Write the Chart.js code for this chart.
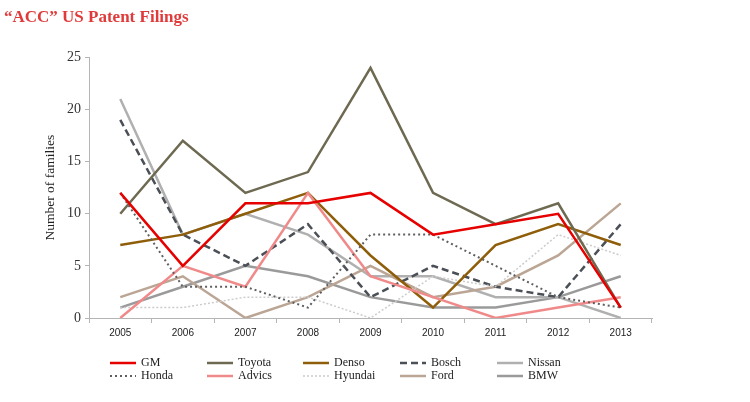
<!DOCTYPE html>
<html>
<head>
<meta charset="utf-8">
<script src="https://cdn.jsdelivr.net/npm/chart.js@4/dist/chart.umd.min.js"></script>
<style>
    html, body { margin: 0; padding: 0; background: #fff; }
    #wrap { width: 750px; height: 402px; position: relative; }
</style>
</head>
<body>
<div id="wrap"><canvas id="chart"></canvas></div>
<script>
// "ACC" US patent filings per year (number of families)
const years = ['2005', '2006', '2007', '2008', '2009', '2010', '2011', '2012', '2013'];
const yTicks = [0, 5, 10, 15, 20, 25];

const gm      = [12, 5, 11, 11, 12, 8, 9, 10, 1];
const toyota  = [10, 17, 12, 14, 24, 12, 9, 11, 1];
const denso   = [7, 8, 10, 12, 6, 1, 7, 9, 7];
const bosch   = [19, 8, 5, 9, 2, 5, 3, 2, 9];
const nissan  = [21, 8, 10, 8, 4, 4, 2, 2, 0];
const honda   = [12, 3, 3, 1, 8, 8, 5, 2, 1];
const advics  = [0, 5, 3, 12, 4, 2, 0, 1, 2];
const hyundai = [1, 1, 2, 2, 0, 4, 3, 8, 6];
const ford    = [2, 4, 0, 2, 5, 2, 3, 6, 11];
const bmw     = [1, 3, 5, 4, 2, 1, 1, 2, 4];

const serif = "'Liberation Serif', 'DejaVu Serif', serif";
const sans = "'Liberation Sans', 'DejaVu Sans', sans-serif";

function series(label, data, color, width, dash) {
    return {
        label: label,
        data: data,
        borderColor: color,
        backgroundColor: color,
        borderWidth: width,
        borderDash: dash || [],
        pointRadius: 0,
        tension: 0,
        fill: false
    };
}

// legend grid: column-major, 2 rows x 5 columns
const legendPlugin = {
    id: 'gridLegend',
    afterDraw(chart) {
        const ctx = chart.ctx;
        const cols = [110, 207, 303, 400, 497];
        const rows = [363, 376];
        ctx.save();
        ctx.font = '12px ' + serif;
        ctx.textBaseline = 'middle';
        chart.data.datasets.forEach((ds, i) => {
            const x = cols[Math.floor(i / 2)];
            const y = rows[i % 2];
            ctx.strokeStyle = ds.borderColor;
            ctx.lineWidth = ds.borderWidth;
            ctx.setLineDash(ds.borderDash);
            ctx.beginPath();
            ctx.moveTo(x, y);
            ctx.lineTo(x + 26, y);
            ctx.stroke();
            ctx.setLineDash([]);
            ctx.fillStyle = '#222';
            ctx.fillText(ds.label, x + 31, y);
        });
        ctx.restore();
    }
};

const ctx = document.getElementById('chart').getContext('2d');
new Chart(ctx, {
    type: 'line',
    data: {
        labels: years,
        datasets: [
            series('GM', gm, '#e60000', 2.5),
            series('Honda', honda, '#5f5f5f', 2, [2, 3]),
            series('Toyota', toyota, '#6e6a52', 2.5),
            series('Advics', advics, '#f08a8a', 2.5),
            series('Denso', denso, '#8f5e0a', 2.5),
            series('Hyundai', hyundai, '#cccccc', 1.5, [2, 2]),
            series('Bosch', bosch, '#4b4f56', 2.5, [7, 4]),
            series('Ford', ford, '#bba594', 2.5),
            series('Nissan', nissan, '#b0b0b0', 2.5),
            series('BMW', bmw, '#9a9a9a', 2.5)
        ]
    },
    options: {
        responsive: true,
        maintainAspectRatio: false,
        animation: false,
        layout: { padding: { left: 4, right: 98, top: 3, bottom: 59 } },
        plugins: {
            legend: { display: false },
            tooltip: { enabled: false },
            title: {
                display: true,
                text: '\u201CACC\u201D US Patent Filings',
                align: 'start',
                color: '#e03a3a',
                font: { family: serif, size: 17, weight: 'bold' },
                padding: { top: 4, bottom: 30 },
                fullSize: true
            }
        },
        scales: {
            x: {
                offset: true,
                border: { color: '#b5b5b5', width: 1 },
                grid: { offset: true, drawOnChartArea: false, tickLength: 5, color: '#b5b5b5' },
                ticks: { color: '#222', font: { family: sans, size: 10 }, padding: 4 }
            },
            y: {
                min: 0,
                max: 25,
                afterBuildTicks: (axis) => { axis.ticks = yTicks.map(v => ({ value: v })); },
                afterFit: (axis) => { axis.width = 85; },
                border: { color: '#b5b5b5', width: 1 },
                grid: { drawOnChartArea: false, tickLength: 4, color: '#b5b5b5' },
                ticks: { color: '#333', font: { family: serif, size: 14 }, padding: 4 },
                title: {
                    display: true,
                    text: 'Number of families',
                    color: '#222',
                    font: { family: serif, size: 13.5 },
                    padding: { top: 38, bottom: 4 }
                }
            }
        }
    },
    plugins: [legendPlugin]
});
</script>
</body>
</html>
